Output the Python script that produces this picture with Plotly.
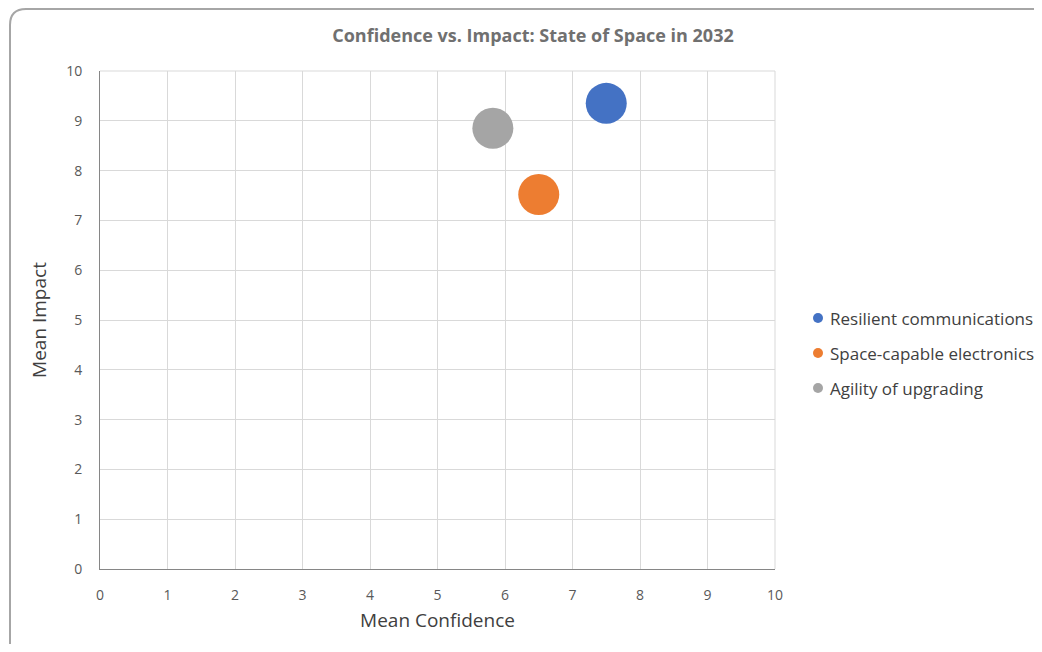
import plotly.graph_objects as go

# data
names = ['Resilient communications', 'Space-capable electronics', 'Agility of upgrading']
mean_confidence = [7.5, 6.5, 5.82]
mean_impact = [9.35, 7.52, 8.85]
bubble_size = [41, 41, 41]
colors = ['#4472C4', '#ED7D31', '#A5A5A5']
tick_vals = list(range(0, 11))

FONT = 'Open Sans'
# page has an 8px body margin, so the figure is a bit smaller than the window
W, H = 1026, 636
L, R, T, B = 92, 259, 63, 75

fig = go.Figure()
for i in range(len(names)):
    fig.add_trace(go.Scatter(
        x=[mean_confidence[i]], y=[mean_impact[i]], mode='markers', name=names[i],
        showlegend=False,
        marker={'size': bubble_size[i], 'color': colors[i], 'line': {'width': 0}, 'opacity': 1},
    ))

# helpers: figure pixels -> paper coords of the plot area
pw, ph = W - L - R, H - T - B
def px(x):
    return (x - L) / pw
def py(y):
    return 1 - (y - T) / ph

shapes = [
    {'type': 'line', 'xref': 'paper', 'yref': 'paper', 'x0': 0, 'x1': 1, 'y0': 1, 'y1': 1,
     'line': {'color': '#d9d9d9', 'width': 1}, 'layer': 'below'},
    {'type': 'line', 'xref': 'paper', 'yref': 'paper', 'x0': 1, 'x1': 1, 'y0': 0, 'y1': 1,
     'line': {'color': '#d9d9d9', 'width': 1}, 'layer': 'below'},
]

# outer rounded frame
r = 16
x0, y0, x1, y1 = 2, 1, 1060, 670
path = (f'M {px(x0)},{py(y0 + r)} Q {px(x0)},{py(y0)} {px(x0 + r)},{py(y0)} '
        f'L {px(x1)},{py(y0)} L {px(x1)},{py(y1)} L {px(x0)},{py(y1)} Z')
shapes.append({'type': 'path', 'xref': 'paper', 'yref': 'paper', 'path': path,
               'line': {'color': '#a6a6a6', 'width': 2}})

# legend drawn by hand so it sits where the reference has it
annotations = []
for i, name in enumerate(names):
    yy = py(310 + 35 * i)
    shapes.append({'type': 'circle', 'xref': 'paper', 'yref': 'paper',
                   'xsizemode': 'pixel', 'ysizemode': 'pixel',
                   'xanchor': px(810), 'yanchor': yy, 'x0': -5, 'x1': 5, 'y0': -5, 'y1': 5,
                   'fillcolor': colors[i], 'line': {'width': 0}})
    annotations.append({'text': name, 'xref': 'paper', 'yref': 'paper', 'x': px(820), 'y': yy,
                        'xanchor': 'left', 'yanchor': 'middle', 'showarrow': False,
                        'font': {'size': 17, 'color': '#404040'}})

fig.update_layout(
    width=W, height=H,
    margin={'l': L, 'r': R, 't': T, 'b': B},
    paper_bgcolor='white', plot_bgcolor='white',
    font={'family': FONT, 'color': '#595959', 'size': 14},
    title={'text': '<b>Confidence vs. Impact: State of Space in 2032</b>',
           'x': 525 / W, 'xanchor': 'center', 'y': 1 - 28 / H, 'yanchor': 'middle',
           'font': {'size': 18, 'color': '#707070', 'family': FONT}},
    xaxis={'range': [0, 10], 'tickvals': tick_vals, 'showgrid': True, 'gridcolor': '#d9d9d9',
           'showline': True, 'linecolor': '#868686', 'linewidth': 1, 'zeroline': False,
           'ticklabelstandoff': 13, 'tickfont': {'color': '#595959'},
           'title': {'text': 'Mean Confidence', 'font': {'size': 19, 'color': '#404040'}, 'standoff': 10}},
    yaxis={'range': [0, 10], 'tickvals': tick_vals, 'showgrid': True, 'gridcolor': '#d9d9d9',
           'showline': True, 'linecolor': '#868686', 'linewidth': 1, 'zeroline': False,
           'ticklabelstandoff': 14, 'tickfont': {'color': '#595959'},
           'title': {'text': 'Mean Impact', 'font': {'size': 19, 'color': '#404040'}, 'standoff': 14}},
    shapes=shapes,
    annotations=annotations,
)

fig.write_html('out.html')
